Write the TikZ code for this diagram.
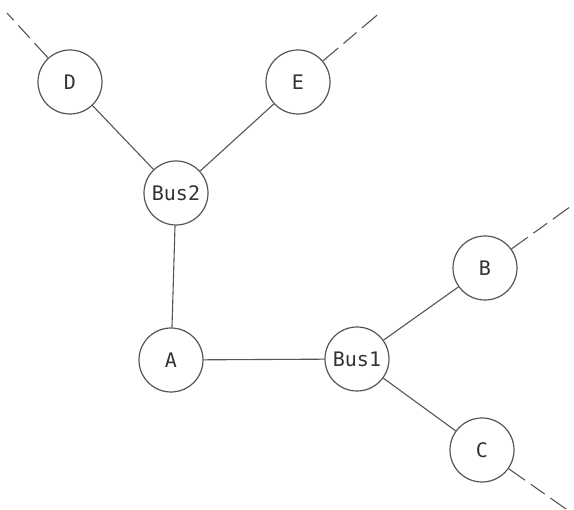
\documentclass[tikz,border=0pt]{standalone}
\usepackage{fontspec}
\setmonofont{DejaVu Sans Mono}
\definecolor{inkline}{HTML}{555555}
\definecolor{inktext}{HTML}{333333}
\begin{document}
\begin{tikzpicture}[x=1pt,y=-1pt,
  station/.style={circle, draw=inkline, line width=1.2pt, minimum size=64pt,
    inner sep=0pt, text=inktext, font=\ttfamily\fontsize{20}{24}\selectfont},
  link/.style={draw=inkline, line width=1.1pt},
  outlink/.style={draw=inkline, line width=1.1pt, dash pattern=on 20pt off 7pt on 17pt off 7pt}]
  \useasboundingbox (0,0) rectangle (574,510);

  % network nodes
  \node[station] (D)    at (70,82)   {D};
  \node[station] (E)    at (298,82)  {E};
  \node[station] (bus2) at (176,193) {Bus2};
  \node[station] (A)    at (171,360) {A};
  \node[station] (bus1) at (357,359) {Bus1};
  \node[station] (B)    at (485,268) {B};
  \node[station] (C)    at (482,450) {C};

  % open ends leading off the sheet
  \coordinate (dOut) at (7,13);
  \coordinate (eOut) at (382,11);
  \coordinate (bOut) at (574,204);
  \coordinate (cOut) at (566,509);

  % bus connections
  \draw[link] (D) -- (bus2);
  \draw[link] (E) -- (bus2);
  \draw[link] (bus2) -- (A);
  \draw[link] (A) -- (bus1);
  \draw[link] (bus1) -- (B);
  \draw[link] (bus1) -- (C);

  % continuing lines
  \draw[outlink] (D) -- (dOut);
  \draw[outlink] (E) -- (eOut);
  \draw[outlink] (B) -- (bOut);
  \draw[outlink] (C) -- (cOut);
\end{tikzpicture}
\end{document}
